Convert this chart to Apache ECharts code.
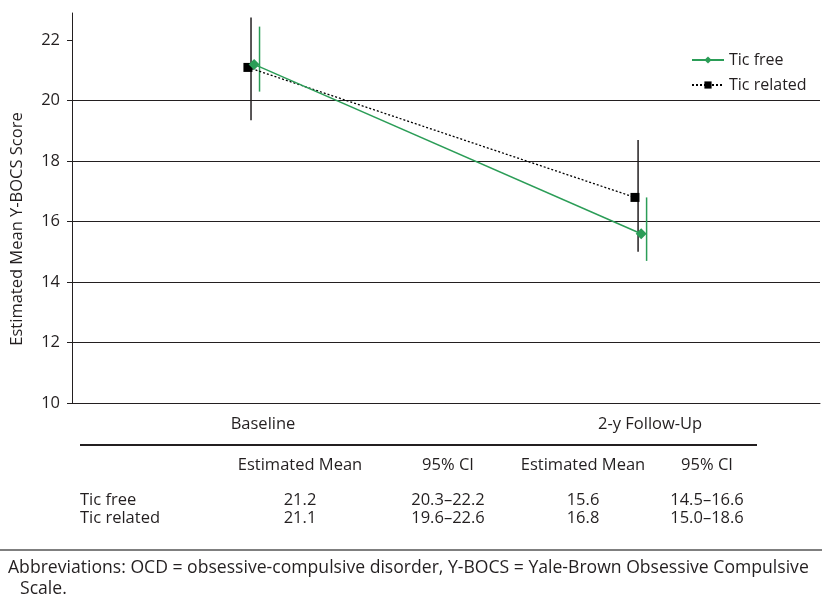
<!DOCTYPE html>
<html>
<head>
<meta charset="utf-8">
<script src="https://cdn.jsdelivr.net/npm/echarts@6/dist/echarts.min.js"></script>
<style>
html,body{margin:0;padding:0;background:#fff;}
#main{width:822px;height:601px;}
</style>
</head>
<body>
<div id="main"></div>
<script>
// ---- data ----
const categories = ['Baseline', '2-y Follow-Up'];
const seriesNames = ['Tic free', 'Tic related'];
const ticFreeMean = [21.2, 15.6];
const ticRelatedMean = [21.1, 16.8];
const ticFreeLow = [20.3, 14.7];
const ticFreeHigh = [22.45, 16.8];
const ticRelatedLow = [19.35, 15.0];
const ticRelatedHigh = [22.75, 18.7];
const yTicks = [10, 12, 14, 16, 18, 20, 22];
const yAxisTitle = 'Estimated Mean Y-BOCS Score';
const tableHeaders = ['Estimated Mean', '95% CI', 'Estimated Mean', '95% CI'];
const tableRowLabels = ['Tic free', 'Tic related'];
const tableTicFree = ['21.2', '20.3\u201322.2', '15.6', '14.5\u201316.6'];
const tableTicRelated = ['21.1', '19.6\u201322.6', '16.8', '15.0\u201318.6'];
const footnoteLines = [
  'Abbreviations: OCD = obsessive-compulsive disorder, Y-BOCS = Yale-Brown Obsessive Compulsive',
  'Scale.'
];

// ---- layout / style ----
const FONT = '"Open Sans", sans-serif';
const TXT = '#231f20';
const GREEN = '#2b9d57';
const FS = 16.5;
const offFree = 0.008, offRel = -0.008, offBarFree = 0.022, offBarRel = 0;

const chart = echarts.init(document.getElementById('main'), null, {renderer: 'canvas'});

function errBar(color) {
  return function (params, api) {
    const x = api.value(0);
    const p1 = api.coord([x, api.value(1)]);
    const p2 = api.coord([x, api.value(2)]);
    return {type: 'line', shape: {x1: p1[0], y1: p1[1], x2: p2[0], y2: p2[1]},
      style: {stroke: color, lineWidth: 1.5}};
  };
}

const option = {
  animation: false,
  backgroundColor: '#fff',
  textStyle: {fontFamily: FONT, color: TXT},
  grid: {left: 72, right: 2, top: 13, bottom: 198, containLabel: false},
  xAxis: {
    type: 'value', min: -0.4625, max: 1.47,
    axisLine: {show: true, onZero: false, lineStyle: {color: TXT, width: 1}},
    axisTick: {show: false}, axisLabel: {show: false}, splitLine: {show: false}
  },
  yAxis: {
    type: 'value', min: 10, max: 22.9, interval: 2,
    axisLine: {show: true, onZero: false, lineStyle: {color: TXT, width: 1}},
    axisTick: {show: true, length: 5, lineStyle: {color: TXT}, customValues: yTicks},
    axisLabel: {color: TXT, fontSize: FS, fontFamily: FONT, margin: 12, customValues: yTicks},
    splitLine: {show: true, showMaxLine: false, lineStyle: {color: TXT, width: 1}}
  },
  legend: {
    data: seriesNames, orient: 'vertical', left: 686, top: 47,
    itemWidth: 32, itemHeight: 9, itemGap: 9,
    textStyle: {color: TXT, fontSize: 16, fontFamily: FONT}
  },
  series: [
    {
      type: 'custom', name: 'freeCI', z: 1, silent: true,
      renderItem: errBar(GREEN),
      data: ticFreeLow.map((lo, i) => [i + offBarFree, lo, ticFreeHigh[i]])
    },
    {
      type: 'custom', name: 'relCI', z: 1, silent: true,
      renderItem: errBar(TXT),
      data: ticRelatedLow.map((lo, i) => [i + offBarRel, lo, ticRelatedHigh[i]])
    },
    {
      type: 'line', name: seriesNames[1], z: 3,
      symbol: 'rect', symbolSize: 9,
      itemStyle: {color: '#000'},
      lineStyle: {color: '#000', width: 1.3, type: [2, 2]},
      data: ticRelatedMean.map((v, i) => [i + offRel, v])
    },
    {
      type: 'line', name: seriesNames[0], z: 4,
      symbol: 'diamond', symbolSize: 11,
      itemStyle: {color: GREEN},
      lineStyle: {color: GREEN, width: 1.5},
      data: ticFreeMean.map((v, i) => [i + offFree, v])
    }
  ]
};
chart.setOption(option);

// ---- text elements: axis labels, table, footnote ----
const g = [];
const font = FS + 'px ' + FONT;
categories.forEach((c, i) => {
  const p = chart.convertToPixel({xAxisIndex: 0, yAxisIndex: 0}, [i, 10]);
  g.push({type: 'text', x: p[0] + 12, y: p[1] + 21,
    style: {text: c, fill: TXT, font: font, textAlign: 'center', textVerticalAlign: 'middle'}});
});
g.push({type: 'text', x: 17, y: 229, rotation: Math.PI / 2,
  style: {text: yAxisTitle, fill: TXT, font: font, textAlign: 'center', textVerticalAlign: 'middle'}});
g.push({type: 'line', shape: {x1: 80, y1: 445, x2: 757, y2: 445}, style: {stroke: TXT, lineWidth: 2}});
const colX = [300, 448, 583, 707];
tableHeaders.forEach((h, j) => g.push({type: 'text', x: colX[j], y: 465,
  style: {text: h, fill: TXT, font: font, textAlign: 'center', textVerticalAlign: 'middle'}}));
[tableTicFree, tableTicRelated].forEach((row, r) => {
  const y = 500 + r * 18;
  g.push({type: 'text', x: 80, y: y,
    style: {text: tableRowLabels[r], fill: TXT, font: font, textAlign: 'left', textVerticalAlign: 'middle'}});
  row.forEach((v, j) => g.push({type: 'text', x: colX[j], y: y,
    style: {text: v, fill: TXT, font: font, textAlign: 'center', textVerticalAlign: 'middle'}}));
});
g.push({type: 'line', shape: {x1: 0, y1: 550, x2: 822, y2: 550}, style: {stroke: '#555', lineWidth: 1.5}});
g.push({type: 'text', x: 8, y: 568,
  style: {text: footnoteLines[0], fill: TXT, font: '17.6px ' + FONT, textAlign: 'left', textVerticalAlign: 'middle'}});
g.push({type: 'text', x: 20, y: 589,
  style: {text: footnoteLines[1], fill: TXT, font: '17.6px ' + FONT, textAlign: 'left', textVerticalAlign: 'middle'}});
chart.setOption({graphic: g});
</script>
</body>
</html>
